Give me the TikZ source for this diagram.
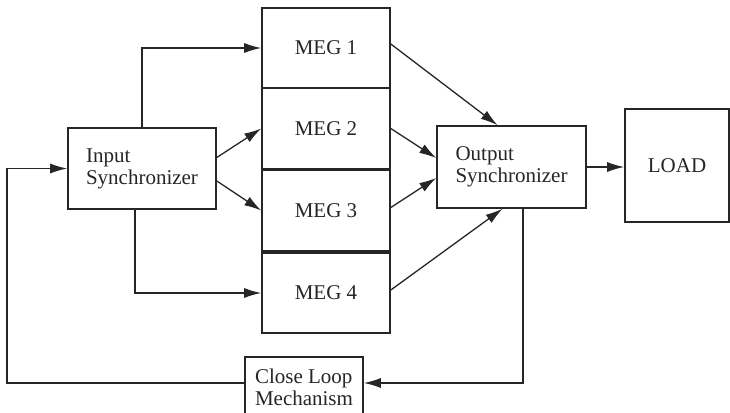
\documentclass[tikz,border=0pt]{standalone}
\usepackage{fontspec}
\setmainfont{Liberation Serif}
\usetikzlibrary{arrows.meta,calc}
\begin{document}
\begin{tikzpicture}[x=1pt,y=-1pt,
  box/.style={draw=black!85,line width=1.6pt,inner sep=0pt,align=left,
    font=\fontsize{21}{22}\selectfont,text=black!85},
  arr/.style={draw=black!85,line width=1.3pt,-{Latex[length=17pt,width=10pt]}},
  ln/.style={draw=black!85,line width=1.3pt}]
\clip (0,0) rectangle (730,412);
\fill[white] (0,0) rectangle (730,412);
\node[box,minimum width=148pt,minimum height=81pt] (in) at (142,168.5) {Input\\Synchronizer};
\node[box,minimum width=128pt,minimum height=80pt] (m1) at (326,48) {MEG 1};
\node[box,minimum width=128pt,minimum height=81pt] (m2) at (326,128.5) {MEG 2};
\node[box,minimum width=128pt,minimum height=81pt] (m3) at (326,210.5) {MEG 3};
\node[box,minimum width=128pt,minimum height=80pt] (m4) at (326,293) {MEG 4};
\node[box,minimum width=149pt,minimum height=82pt] (out) at (511.5,167) {Output\\Synchronizer};
\node[box,minimum width=104pt,minimum height=113pt] (load) at (677,165.5) {LOAD};
\node[box,minimum width=118pt,minimum height=60pt] (cl) at (304,387) {Close Loop\\Mechanism};
\coordinate (fb) at (7,383);
\draw[arr] (in.north) |- (m1.west);
\draw[arr] ($(in.south)+(-7,0)$) |- (m4.west);
\draw[arr] ($(in.east)+(0,-11)$) -- (m2.west);
\draw[arr] ($(in.east)+(0,12.5)$) -- (m3.west);
\draw[arr] ($(m1.east)+(0,-4)$) -- ($(out.north)+(-14,0)$);
\draw[arr] (m2.east) -- ($(out.west)+(0,-9)$);
\draw[arr] ($(m3.east)+(0,-3)$) -- ($(out.west)+(0,11)$);
\draw[arr] ($(m4.east)+(0,-3)$) -- ($(out.south)+(-9,0)$);
\draw[arr] (out.east) -- (load.west |- out.east);
\draw[arr] ($(out.south)+(11.5,0)$) |- ($(cl.east)+(0,-4)$);
\draw[arr] ($(cl.west)+(0,-4)$) -- (fb) |- (in.west);
\end{tikzpicture}
\end{document}
